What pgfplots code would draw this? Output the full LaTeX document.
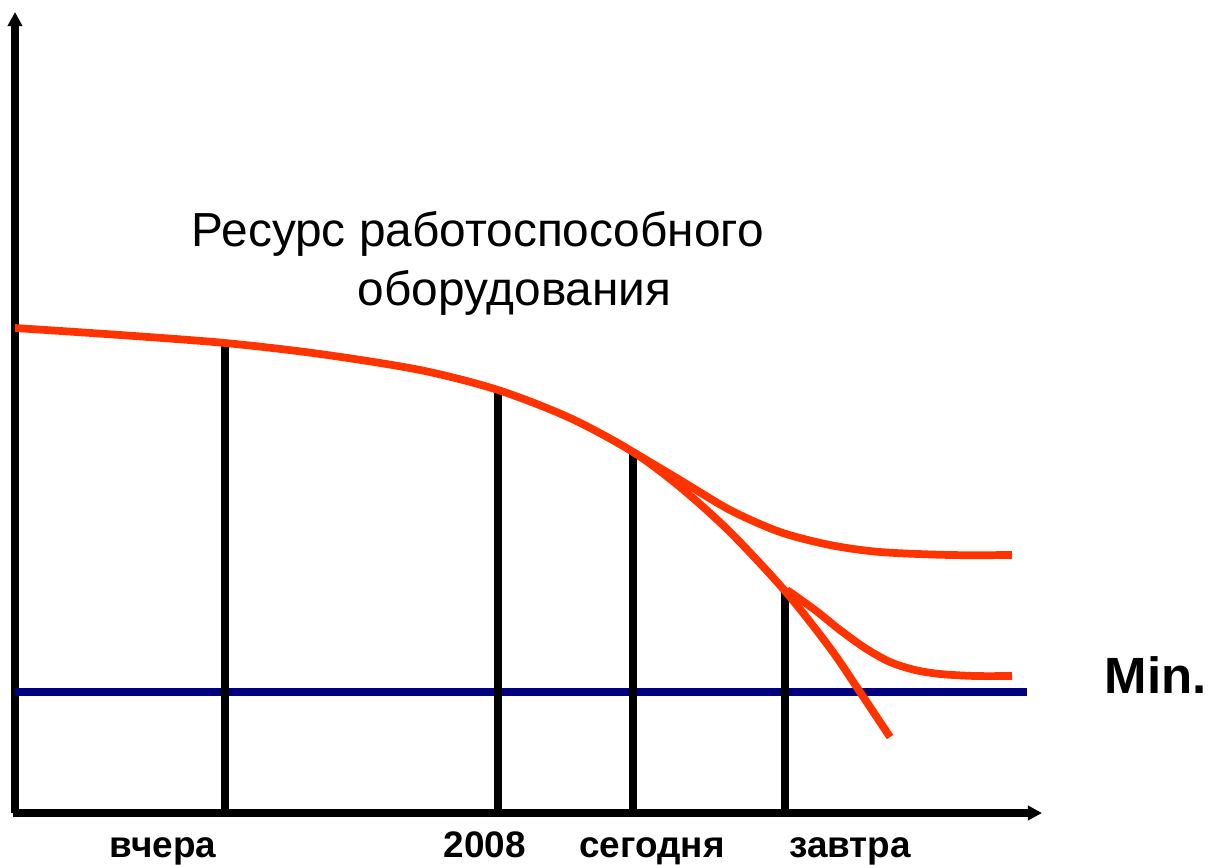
\documentclass[border=0pt]{standalone}
\usepackage{pgfplots}
\pgfplotsset{compat=1.18}
\usepackage{fontspec}
\setmainfont{Liberation Sans}
\usetikzlibrary{arrows.meta}
\definecolor{redc}{HTML}{FF3300}
\definecolor{bluec}{HTML}{000080}
\begin{document}
\begin{tikzpicture}
\begin{axis}[
  width=12.12cm, height=8.63cm, scale only axis,
  xmin=0, xmax=1212, ymin=0, ymax=863, y dir=reverse,
  hide axis, clip=false,
]
% invisible frame
\addplot[draw=none] coordinates {(0,0) (1212,863)};
% axes
\addplot[black, line width=2.2pt, -{Triangle[length=4pt,width=4pt]}] coordinates {(15,813) (15,12)};
\addplot[black, line width=2.2pt, -{Triangle[length=4pt,width=4pt]}] coordinates {(13,813) (1042,813)};
% min line
\addplot[bluec, line width=2.1pt] coordinates {(15,692) (1027,692)};
% verticals
\addplot[black, line width=2.2pt] coordinates {(225,345) (225,813)};
\addplot[black, line width=2.2pt] coordinates {(498,390) (498,813)};
\addplot[black, line width=2.2pt] coordinates {(633,452) (633,813)};
\addplot[black, line width=2.2pt] coordinates {(785,590) (785,813)};
% curves
\addplot[redc, line width=2.2pt, smooth] coordinates {(15,328) (120,335) (225,343) (320,354) (420,370) (498,390) (570,418) (633,452) (680,487) (730,532) (785,591) (830,648) (860,692) (890,737)};
\addplot[redc, line width=2.2pt, smooth] coordinates {(633,452) (680,480) (730,510) (780,532) (830,545) (880,552) (950,555) (1012,555)};
\addplot[redc, line width=2.2pt, smooth] coordinates {(787,590) (815,610) (840,630) (865,648) (890,662) (915,670) (940,674) (975,676) (1012,676)};
% texts
\node[anchor=base west, font=\fontsize{13.6pt}{16pt}\selectfont, inner sep=0pt] at (axis cs:191,247) {Ресурс работоспособного};
\node[anchor=base west, font=\fontsize{13.6pt}{16pt}\selectfont, inner sep=0pt] at (axis cs:357,306) {оборудования};
\node[anchor=base, font=\fontsize{10.5pt}{12pt}\selectfont\bfseries, inner sep=0pt] at (axis cs:163,857) {вчера};
\node[anchor=base, font=\fontsize{10.5pt}{12pt}\selectfont\bfseries, inner sep=0pt] at (axis cs:485,857) {2008};
\node[anchor=base, font=\fontsize{10.5pt}{12pt}\selectfont\bfseries, inner sep=0pt] at (axis cs:652,857) {сегодня};
\node[anchor=base, font=\fontsize{10.5pt}{12pt}\selectfont\bfseries, inner sep=0pt] at (axis cs:850,857) {завтра};
\node[anchor=base west, font=\fontsize{14.5pt}{16pt}\selectfont\bfseries, inner sep=0pt] at (axis cs:1104,693) {Min.};
\end{axis}
\end{tikzpicture}
\end{document}
